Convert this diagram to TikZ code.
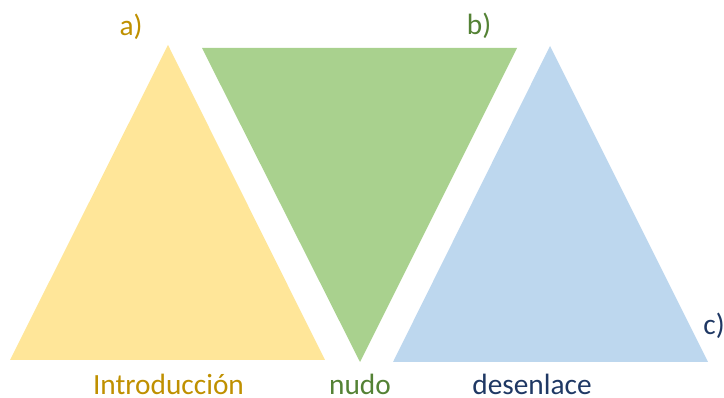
\documentclass[tikz,border=0pt]{standalone}
\usepackage{fontspec}
\setmainfont{Carlito}
\definecolor{introfill}{HTML}{FFE699}
\definecolor{nudofill}{HTML}{A9D18E}
\definecolor{desfill}{HTML}{BDD7EE}
\definecolor{introtext}{HTML}{BF9000}
\definecolor{nudotext}{HTML}{548235}
\definecolor{destext}{HTML}{1F3864}
\tikzset{
  lbl/.style={anchor=base,inner sep=0pt,text depth=0pt,font=\fontsize{22}{26}\selectfont}
}
\begin{document}
\begin{tikzpicture}[x=0.75pt,y=-0.75pt]
                \useasboundingbox (0,0) rectangle (724,398);
                \fill[introfill] (168,45) -- (10,360) -- (325,360) -- cycle;
                \fill[nudofill] (202,48) -- (517,48) -- (360,362) -- cycle;
                \fill[desfill] (550,46) -- (393,362) -- (708,362) -- cycle;
                \node[lbl,text=introtext](A) at (131,36) {a)};
                \node[lbl,text=nudotext](B) at (479,35) {b)};
                \node[lbl,text=destext](C) at (714,335) {c)};
                \node[lbl,text=introtext](I) at (168.5,395) {Introducción};
                \node[lbl,text=nudotext](N) at (360,395) {nudo};
                \node[lbl,text=destext](D) at (532,395) {desenlace};
            \end{tikzpicture}
\end{document}
